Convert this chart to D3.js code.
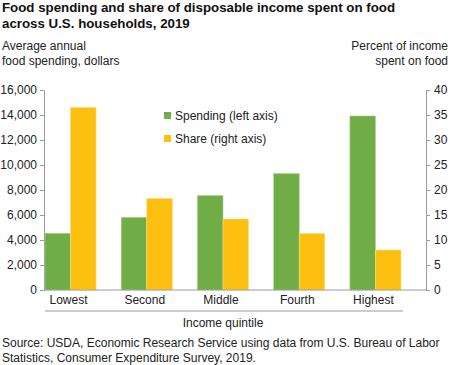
<!DOCTYPE html>
<html lang="en">
<head>
  <meta charset="UTF-8">
  <title>Food spending and share of income</title>
  <script src="https://d3js.org/d3.v7.min.js"></script>
  <style>
    body {
      margin: 0;
      font-family: Arial, "Liberation Sans", sans-serif;
      background: #fff;
    }
    .axis path, .axis line {
      stroke: #9a9a9a;
    }
    .axis text {
      font-size: 12px;
      fill: #222;
    }
  </style>
</head>
<body>
  <div id="chart"></div>

  <script>
    const quintiles = ["Lowest", "Second", "Middle", "Fourth", "Highest"];
    const spending = [4530, 5810, 7550, 9310, 13920];
    const share = [36.5, 18.3, 14.2, 11.3, 8.0];
    const leftTicks = [0, 2000, 4000, 6000, 8000, 10000, 12000, 14000, 16000];
    const rightTicks = [0, 5, 10, 15, 20, 25, 30, 35, 40];

    const green = "#70ad47", yellow = "#fdc010";

    const width = 450, height = 365;
    const plot = {left: 44, right: 426, top: 90, bottom: 290};

    const svg = d3.select("#chart")
                  .append("svg")
                  .attr("width", width)
                  .attr("height", height);

    const data = quintiles.map((q, i) => ({q: q, spending: spending[i], share: share[i]}));

    const x = d3.scaleBand()
                .domain(quintiles)
                .range([45, 401])
                .paddingInner(0.33)
                .paddingOuter(0);

    const xSub = d3.scaleBand()
                   .domain(["spending", "share"])
                   .range([0, x.bandwidth()]);

    const yL = d3.scaleLinear().domain([0, 16000]).range([plot.bottom, plot.top]);
    const yR = d3.scaleLinear().domain([0, 40]).range([plot.bottom, plot.top]);

    // title
    const title = svg.append("text")
       .attr("x", 2)
       .attr("y", 12)
       .style("font-size", "13.3px")
       .style("font-weight", "bold")
       .style("fill", "#111");
    title.append("tspan").attr("x", 2).text("Food spending and share of disposable income spent on food");
    title.append("tspan").attr("x", 2).attr("dy", 15.5).text("across U.S. households, 2019");

    // axis titles
    const lt = svg.append("text").attr("y", 50).style("font-size", "12px").style("fill", "#222");
    lt.append("tspan").attr("x", 2).text("Average annual");
    lt.append("tspan").attr("x", 2).attr("dy", 15).text("food spending, dollars");

    const rt = svg.append("text").attr("y", 50).attr("text-anchor", "end")
                  .style("font-size", "12px").style("fill", "#222");
    rt.append("tspan").attr("x", 448).text("Percent of income");
    rt.append("tspan").attr("x", 448).attr("dy", 15).text("spent on food");

    // axes
    svg.append("g")
       .attr("class", "axis")
       .attr("transform", `translate(${plot.left},0)`)
       .call(d3.axisLeft(yL).tickValues(leftTicks).tickFormat(d3.format(",")).tickSize(4).tickSizeOuter(0).tickPadding(3));

    svg.append("g")
       .attr("class", "axis")
       .attr("transform", `translate(${plot.right},0)`)
       .call(d3.axisRight(yR).tickValues(rightTicks).tickSize(4).tickSizeOuter(0).tickPadding(4));

    // bars
    const groups = svg.selectAll(".grp")
       .data(data)
       .enter()
       .append("g")
       .attr("class", "grp")
       .attr("transform", d => `translate(${x(d.q)},0)`);

    groups.append("rect")
       .attr("x", xSub("spending"))
       .attr("width", xSub.bandwidth())
       .attr("y", d => yL(d.spending))
       .attr("height", d => plot.bottom - yL(d.spending))
       .attr("fill", green)
       .attr("stroke", "#a9cf90")
       .attr("stroke-width", 0.6);

    groups.append("rect")
       .attr("x", xSub("share"))
       .attr("width", xSub.bandwidth())
       .attr("y", d => yR(d.share))
       .attr("height", d => plot.bottom - yR(d.share))
       .attr("fill", yellow)
       .attr("stroke", "#fedc80")
       .attr("stroke-width", 0.6);

    // category axis
    svg.append("line")
       .attr("x1", plot.left).attr("x2", plot.right)
       .attr("y1", plot.bottom).attr("y2", plot.bottom)
       .attr("stroke", "#9a9a9a");

    svg.selectAll(".cat")
       .data(quintiles)
       .enter()
       .append("text")
       .attr("x", d => x(d) + x.bandwidth() / 2 - 2)
       .attr("y", 304)
       .attr("text-anchor", "middle")
       .style("font-size", "12px")
       .style("fill", "#222")
       .text(d => d);

    svg.append("line")
       .attr("x1", 45).attr("x2", 403)
       .attr("y1", 311).attr("y2", 311)
       .attr("stroke", "#9a9a9a");

    svg.append("text")
       .attr("x", 223)
       .attr("y", 327)
       .attr("text-anchor", "middle")
       .style("font-size", "12px")
       .style("fill", "#222")
       .text("Income quintile");

    // legend
    const legend = svg.append("g").attr("transform", "translate(164,112)");
    [["Spending (left axis)", green], ["Share (right axis)", yellow]].forEach((l, i) => {
      legend.append("rect")
            .attr("x", 0).attr("y", i * 23)
            .attr("width", 7).attr("height", 7)
            .attr("fill", l[1]);
      legend.append("text")
            .attr("x", 11).attr("y", i * 23 + 8)
            .style("font-size", "12px")
            .style("fill", "#222")
            .text(l[0]);
    });

    // source
    const src = svg.append("text").attr("y", 347).style("font-size", "12px").style("fill", "#222");
    src.append("tspan").attr("x", 2).text("Source: USDA, Economic Research Service using data from U.S. Bureau of Labor");
    src.append("tspan").attr("x", 2).attr("dy", 15).text("Statistics, Consumer Expenditure Survey, 2019.");
  </script>
</body>
</html>
